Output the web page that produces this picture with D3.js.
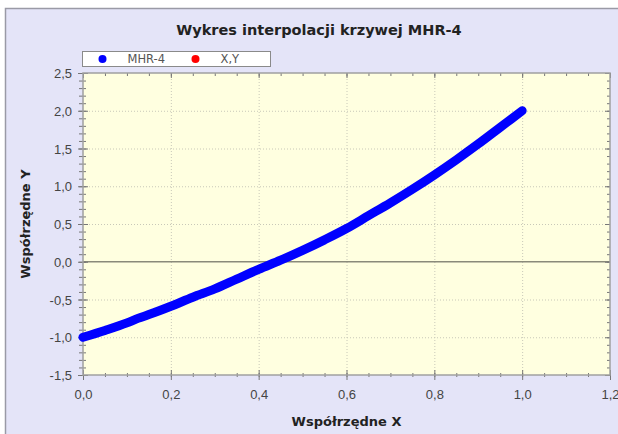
<!DOCTYPE html>
<html>
<head>
<meta charset="utf-8">
<script src="https://cdn.jsdelivr.net/npm/d3@7"></script>
<style>
  html, body { margin: 0; padding: 0; background: #fff; overflow: hidden; }
  svg { display: block; font-family: "DejaVu Sans", Verdana, sans-serif; }
  .tick text { fill: #444; font-size: 13px; }
</style>
</head>
<body>
<svg id="chart" width="618" height="434"></svg>
<script>
const title = "Wykres interpolacji krzywej MHR-4";
const xLabel = "Współrzędne X";
const yLabel = "Współrzędne Y";
const seriesNames = ["MHR-4", "X,Y"];
const seriesColors = ["#0000ff", "#ff0000"];

// curve
const curveX = [0, 0.05, 0.1, 0.125, 0.15, 0.2, 0.25, 0.3, 0.35, 0.4, 0.45, 0.5, 0.55, 0.6, 0.65, 0.7, 0.75, 0.8, 0.85, 0.9, 0.95, 1.0];
const curveY = [-1.0, -0.91, -0.81, -0.75, -0.70, -0.59, -0.47, -0.36, -0.23, -0.10, 0.02, 0.15, 0.29, 0.44, 0.61, 0.78, 0.96, 1.15, 1.35, 1.56, 1.78, 2.0];

const xTicks = [0, 0.2, 0.4, 0.6, 0.8, 1.0, 1.2];
const yTicks = [-1.5, -1.0, -0.5, 0, 0.5, 1.0, 1.5, 2.0, 2.5];
const xMinorStep = 0.05;
const yMinorStep = 0.1;

const svg = d3.select("#chart");
const pLeft = 83, pRight = 610, pTop = 73, pBottom = 375;

const x = d3.scaleLinear().domain([0, 1.2]).range([pLeft, pRight]);
const y = d3.scaleLinear().domain([-1.5, 2.5]).range([pBottom, pTop]);
const fmt = d => d.toFixed(1).replace(".", ",");

// frame
svg.append("rect")
  .attr("x", 5.5).attr("y", 8.5)
  .attr("width", 640).attr("height", 440)
  .attr("fill", "#e4e4f8")
  .attr("stroke", "#9a9aa6").attr("stroke-width", 1.5);

// plot area
svg.append("rect")
  .attr("x", pLeft).attr("y", pTop)
  .attr("width", pRight - pLeft).attr("height", pBottom - pTop)
  .attr("fill", "#ffffe0");

// grid
const grid = svg.append("g")
  .attr("stroke", "#c8c8b8").attr("stroke-dasharray", "1,2");
grid.selectAll(".gx").data(xTicks.slice(1, -1)).enter().append("line")
  .attr("x1", d => x(d) + 0.5).attr("x2", d => x(d) + 0.5)
  .attr("y1", pTop).attr("y2", pBottom);
grid.selectAll(".gy").data(yTicks.slice(1, -1).filter(d => d !== 0)).enter().append("line")
  .attr("y1", d => y(d) + 0.5).attr("y2", d => y(d) + 0.5)
  .attr("x1", pLeft).attr("x2", pRight);

// zero line
svg.append("line")
  .attr("x1", pLeft).attr("x2", pRight)
  .attr("y1", y(0)).attr("y2", y(0))
  .attr("stroke", "#8a8a7a").attr("stroke-width", 1.5);

const xMinor = d3.range(0, 1.2 + 1e-9, xMinorStep);
const yMinor = d3.range(-1.5, 2.5 + 1e-9, yMinorStep);

// draws an axis; tick lengths are set afterwards so they cross the border
function drawAxis(axisFn, scale, values, labels, transform) {
  const g = svg.append("g")
    .attr("transform", transform)
    .call(axisFn(scale).tickValues(values).tickSize(0)
      .tickFormat(labels ? fmt : ""));
  g.select(".domain").remove();
  g.selectAll(".tick line").attr("stroke", "#777");
  return g;
}

// bottom
let g = drawAxis(d3.axisBottom, x, xMinor, false, `translate(0,${pBottom})`);
g.selectAll(".tick line").attr("y1", -2).attr("y2", 2);
g = drawAxis(d3.axisBottom, x, xTicks, true, `translate(0,${pBottom})`);
g.selectAll(".tick line").attr("y1", -5).attr("y2", 5);
g.selectAll(".tick text").attr("y", 15);
// top
g = drawAxis(d3.axisTop, x, xMinor, false, `translate(0,${pTop})`);
g.selectAll(".tick line").attr("y1", 0).attr("y2", 3);
g = drawAxis(d3.axisTop, x, xTicks, false, `translate(0,${pTop})`);
g.selectAll(".tick line").attr("y1", 0).attr("y2", 5);
// left
g = drawAxis(d3.axisLeft, y, yMinor, false, `translate(${pLeft},0)`);
g.selectAll(".tick line").attr("x1", -4).attr("x2", 3);
g = drawAxis(d3.axisLeft, y, yTicks, true, `translate(${pLeft},0)`);
g.selectAll(".tick line").attr("x1", -5).attr("x2", 5);
g.selectAll(".tick text").attr("x", -11).attr("dy", "0.35em");
// right
g = drawAxis(d3.axisRight, y, yMinor, false, `translate(${pRight},0)`);
g.selectAll(".tick line").attr("x1", -3).attr("x2", 0);
g = drawAxis(d3.axisRight, y, yTicks, false, `translate(${pRight},0)`);
g.selectAll(".tick line").attr("x1", -5).attr("x2", 0);

// plot border
svg.append("rect")
  .attr("x", pLeft).attr("y", pTop)
  .attr("width", pRight - pLeft).attr("height", pBottom - pTop)
  .attr("fill", "none").attr("stroke", "#a0a0a0").attr("stroke-width", 1.5);

// curve
const pts = curveX.map((d, i) => [d, curveY[i]]);
svg.append("path")
  .datum(pts)
  .attr("fill", "none")
  .attr("stroke", seriesColors[0])
  .attr("stroke-width", 9)
  .attr("stroke-linecap", "round")
  .attr("stroke-linejoin", "round")
  .attr("d", d3.line().x(d => x(d[0])).y(d => y(d[1])).curve(d3.curveMonotoneX));

// title and axis labels
svg.append("text")
  .attr("x", 319).attr("y", 35)
  .attr("text-anchor", "middle")
  .attr("font-weight", "bold").attr("font-size", 14.5)
  .attr("fill", "#222")
  .text(title);
svg.append("text")
  .attr("x", (pLeft + pRight) / 2).attr("y", 426)
  .attr("text-anchor", "middle")
  .attr("font-weight", "bold").attr("font-size", 13)
  .attr("fill", "#222")
  .text(xLabel);
svg.append("text")
  .attr("transform", `translate(30,${(pTop + pBottom) / 2}) rotate(-90)`)
  .attr("text-anchor", "middle")
  .attr("font-weight", "bold").attr("font-size", 13)
  .attr("fill", "#222")
  .text(yLabel);

// legend
const legend = svg.append("g").attr("transform", "translate(82.5,51.5)");
legend.append("rect")
  .attr("width", 188).attr("height", 15)
  .attr("fill", "#fff").attr("stroke", "#8a8a8a");
const items = legend.selectAll(".item").data(seriesNames).enter().append("g")
  .attr("transform", (d, i) => `translate(${20 + i * 93},7.5)`);
items.append("circle")
  .attr("r", 4)
  .attr("fill", (d, i) => seriesColors[i]);
items.append("text")
  .attr("x", 25).attr("dy", "0.35em")
  .attr("font-size", 11.5).attr("fill", "#555")
  .text(d => d);
</script>
</body>
</html>
